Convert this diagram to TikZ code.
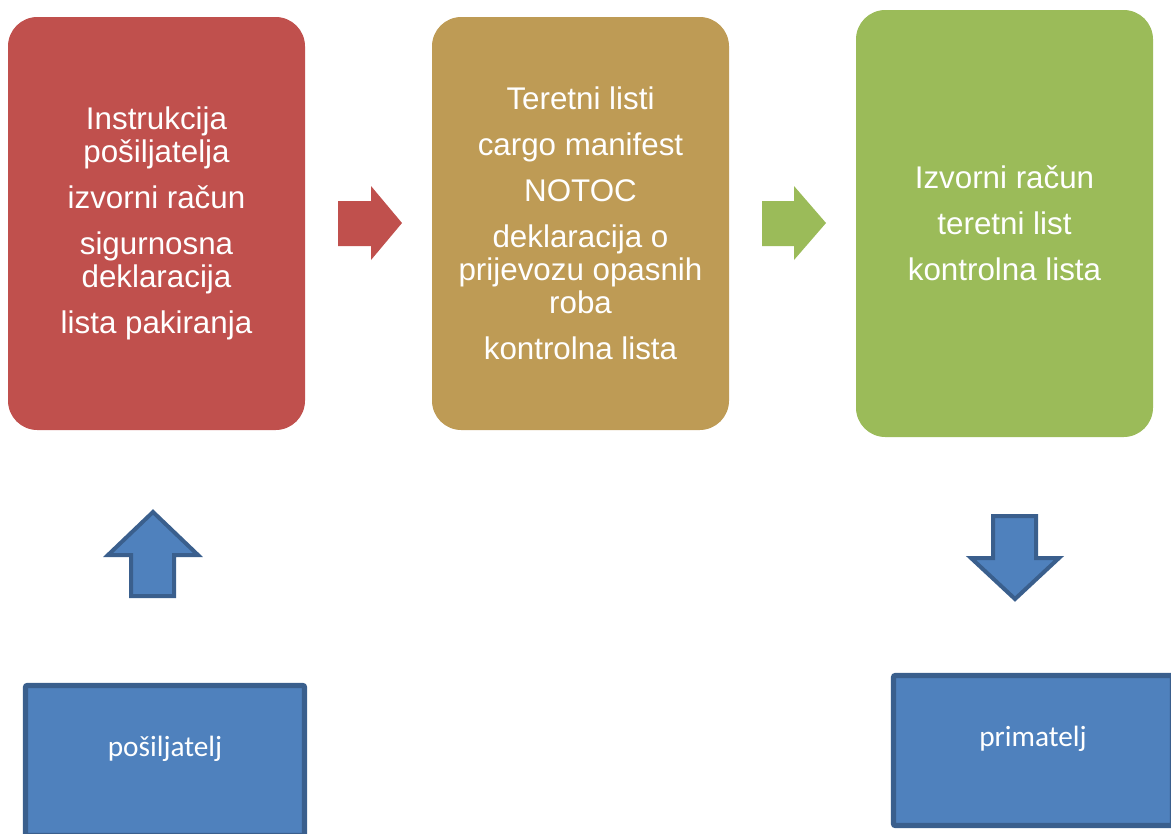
\documentclass[tikz,border=0pt]{standalone}
\usepackage{fontspec}
\setmainfont{Liberation Sans}
\newfontfamily\labelfont{Carlito}
\usetikzlibrary{positioning}
\definecolor{docred}{HTML}{C0504D}
\definecolor{doctan}{HTML}{BE9B55}
\definecolor{docgreen}{HTML}{9BBB59}
\definecolor{partyblue}{HTML}{4F81BD}
\definecolor{partyline}{HTML}{3A5F8D}
\tikzset{
%Define style for the document boxes
doc box/.style={rounded corners=22pt, text=white, align=center, inner sep=0pt,
  minimum width=222.75pt, minimum height=309.75pt,
  font=\fontsize{23.5}{24.75}\selectfont},
%Define style for the block arrows
flow arrow/.style={line join=miter},
party arrow/.style={fill=partyblue, draw=partyline, line width=3pt, line join=miter},
%Define style for sender and receiver
party box/.style={fill=partyblue, draw=partyline, line width=4pt, rounded corners=1.5pt,
  minimum width=209.25pt, minimum height=112.5pt, inner sep=0pt, outer sep=0pt},
party label/.style={text=white, font=\labelfont\fontsize{22}{24}\selectfont},
}

\begin{document}
\begin{tikzpicture}[x=0.75pt, y=-0.75pt]
    \useasboundingbox (0,0) rectangle (1171,833);
    % Documents
    \node[doc box, fill=docred] (sender docs) at (156.5,223.5)
    {Instrukcija\\pošiljatelja\\[9.75pt] izvorni račun\\[9.75pt] sigurnosna\\deklaracija\\[9.75pt] lista pakiranja};
    \node[doc box, fill=doctan] (carrier docs) at (580.5,223.5)
    {Teretni listi\\[9.75pt] cargo manifest\\[9.75pt] NOTOC\\[9.75pt] deklaracija o\\prijevozu opasnih\\roba\\[9.75pt] kontrolna lista};
    \node[doc box, fill=docgreen, minimum height=320.25pt] (receiver docs) at (1004.5,223.5)
    {Izvorni račun\\[9.75pt] teretni list\\[9.75pt] kontrolna lista};

    % Arrows between the documents
    \fill[flow arrow, docred] (338,201) -- (371,201) -- (371,186) -- (402,223)
      -- (371,260) -- (371,246) -- (338,246) -- cycle;
    \fill[flow arrow, docgreen] (762,201) -- (794,201) -- (794,186) -- (826,223)
      -- (794,260) -- (794,246) -- (762,246) -- cycle;

    % Sender and receiver
    \node[party box, anchor=north west] (sender) at (25.5,685.5) {};
    \node[party label] (sender label) at (165,749) {pošiljatelj};
    \node[party box, anchor=north west] (receiver) at (893.5,675.5) {};
    \node[party label] (receiver label) at (1033,739) {primatelj};

    % Up and down arrows
    \draw[party arrow] (131,596) -- (131,555) -- (108,555) -- (153,512)
      -- (198,555) -- (174,555) -- (174,596) -- cycle;
    \draw[party arrow] (993,516) -- (1036,516) -- (1036,558) -- (1059,558)
      -- (1015,599) -- (971,558) -- (993,558) -- cycle;
\end{tikzpicture}
\end{document}
